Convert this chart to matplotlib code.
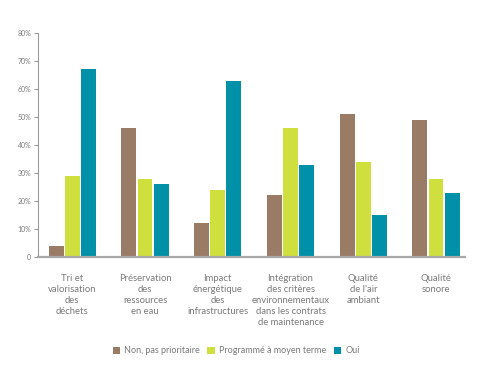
import numpy as np
import matplotlib.pyplot as plt

categories = [
    "Tri et\nvalorisation\ndes\ndéchets",
    "Préservation\ndes\nressources\nen eau",
    "Impact\nénergétique\ndes\ninfrastructures",
    "Intégration\ndes critères\nenvironnementaux\ndans les contrats\nde maintenance",
    "Qualité\nde l'air\nambiant",
    "Qualité\nsonore",
]
non_prioritaire = [4, 46, 12, 22, 51, 49]
moyen_terme = [29, 28, 24, 46, 34, 28]
oui = [67, 26, 63, 33, 15, 23]

series = [
    ("Non, pas prioritaire", non_prioritaire, "#9a7b65"),
    ("Programmé à moyen terme", moyen_terme, "#cfe03e"),
    ("Oui", oui, "#0090a8"),
]

plt.rcParams["font.family"] = ["Lato", "DejaVu Sans"]
grey = "#7a7a7a"

fig = plt.figure(figsize=(4.82, 3.72), dpi=100)
ax = fig.add_axes([0.079, 0.309, 0.886, 0.602])

x = np.arange(len(categories))
w = 0.205
step = 0.222
for i, (name, vals, col) in enumerate(series):
    ax.bar(x + (i - 1) * step, vals, width=w, color=col, label=name, zorder=2)

ax.set_xlim(-0.47, 5.4)
ax.set_ylim(0, 80)
ax.set_yticks(range(0, 81, 10))
ax.set_yticklabels(["0"] + [f"{v}%" for v in range(10, 81, 10)])
ax.set_xticks(x)
ax.set_xticklabels(categories, linespacing=1.3)

for s in ["top", "right"]:
    ax.spines[s].set_visible(False)
ax.spines["left"].set_color("#9a9a9a")
ax.spines["bottom"].set_color("#a8a8a8")
ax.spines["bottom"].set_linewidth(1.6)
ax.tick_params(axis="y", colors="#9a9a9a", labelcolor=grey, labelsize=5, length=3, pad=2)
ax.tick_params(axis="x", length=0, labelcolor=grey, labelsize=6.8, pad=12)

leg = fig.legend(loc="center", bbox_to_anchor=(0.49, 0.057), ncol=3, frameon=False,
                 fontsize=6.5, handlelength=0.8, handleheight=0.8, handletextpad=0.5,
                 columnspacing=0.8)
for t in leg.get_texts():
    t.set_color(grey)

fig.savefig("out.png", dpi=100)
